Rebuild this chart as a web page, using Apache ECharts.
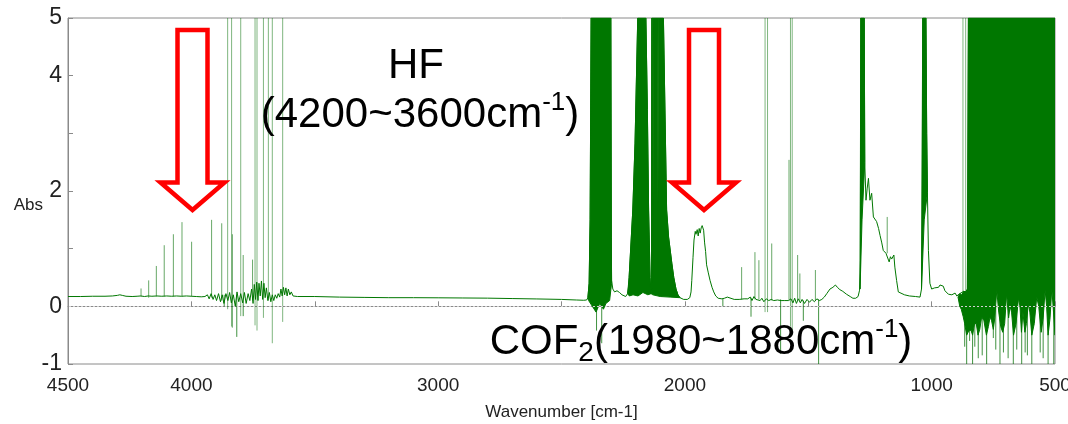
<!DOCTYPE html>
<html><head><meta charset="utf-8">
<script src="https://cdn.jsdelivr.net/npm/echarts@6/dist/echarts.min.js"></script>
<style>html,body{margin:0;padding:0;background:#fff}#c{width:1068px;height:424px}</style>
</head><body><div id="c"></div>
<script>
// ---- tick labels ----
const xTickLabels = [4500, 4000, 3000, 2000, 1000, 500];
const yTickLabels = [-1, 0, 2, 4, 5];

// ---- continuous absorbance trace [wavenumber, Abs] ----
const trace = [
[4500,0.17],[4450,0.17],[4400,0.175],[4350,0.175],[4320,0.18],[4300,0.19],[4290,0.2],[4280,0.19],[4265,0.175],[4240,0.17],
[4220,0.175],[4205,0.18],[4190,0.17],[4175,0.18],[4160,0.175],[4140,0.18],[4120,0.175],[4100,0.18],[4080,0.175],[4060,0.18],
[4040,0.175],[4020,0.18],[4000,0.175],[3980,0.17],[3960,0.165],[3945,0.17],
[3935,0.2],[3928,0.13],[3920,0.22],[3912,0.12],[3905,0.2],[3898,0.1],[3890,0.22],[3882,0.08],[3875,0.2],[3868,0.05],
[3860,0.22],[3852,0.1],[3845,0.24],[3838,0.06],[3830,0.2],[3822,0.0],[3815,0.25],[3808,0.08],[3800,0.22],[3792,0.06],
[3785,0.24],[3778,0.05],[3770,0.22],[3763,0.1],[3756,0.3],[3750,0.05],[3745,0.38],[3740,0.12],[3735,0.42],[3730,0.1],
[3726,0.4],[3721,0.18],[3716,0.44],[3711,0.12],[3706,0.4],[3701,0.15],[3696,0.32],[3690,0.1],[3684,0.24],[3678,0.08],
[3672,0.2],[3666,0.1],[3660,0.2],[3654,0.14],[3648,0.22],[3642,0.16],[3637,0.3],[3632,0.18],[3627,0.33],[3622,0.2],
[3617,0.32],[3612,0.18],[3607,0.3],[3601,0.2],[3595,0.25],[3588,0.18],[3580,0.19],[3570,0.17],
[3500,0.17],[3400,0.16],[3300,0.155],[3200,0.15],[3100,0.15],[3000,0.148],[2900,0.145],[2800,0.142],[2700,0.135],
[2600,0.128],[2500,0.12],[2440,0.11],[2410,0.105],[2398,0.11],[2393,0.15],[2388,0.4],[2384,1.5],[2380,5],
[2300,5],[2298,1.2],[2297,0.45],[2292,0.3],[2285,0.25],[2275,0.27],[2265,0.24],[2255,0.2],[2248,0.17],[2240,0.17],
[2232,0.22],[2228,0.35],[2226,0.5],[2211,1.67],[2202,2.83],[2191,5],[2158,5],[2152,3.41],[2147,1.67],[2141,0.5],
[2138,0.22],[2135,0.3],[2134,5],[2087,5],[2074,1.67],[2066,1.2],[2053,0.75],[2045,0.5],[2036,0.3],[2028,0.2],
[2020,0.15],[2005,0.12],[1990,0.12],[1980,0.15],[1975,0.25],[1972,0.45],[1967,0.85],[1963,1.15],[1958,1.3],[1955,1.25],
[1950,1.33],[1946,1.22],[1942,1.35],[1938,1.27],[1934,1.36],[1930,1.4],[1927,1.42],[1924,1.32],[1920,1.1],[1916,0.95],
[1912,0.72],[1905,0.58],[1898,0.45],[1890,0.33],[1883,0.25],[1875,0.18],[1865,0.14],[1850,0.13],[1840,0.14],[1834,0.17],
[1828,0.16],[1820,0.13],[1800,0.12],[1780,0.12],[1760,0.13],[1745,0.13],[1735,0.16],[1728,0.1],[1720,0.17],[1712,0.12],
[1705,0.15],[1695,0.1],[1688,0.14],[1680,0.08],[1670,0.13],[1660,0.1],[1650,0.12],[1640,0.1],[1625,0.11],[1610,0.1],
[1595,0.1],[1580,0.1],[1570,0.13],[1562,0.06],[1555,0.14],[1548,0.05],[1540,0.13],[1532,0.06],[1525,0.12],[1515,0.05],
[1505,0.12],[1495,0.07],[1485,0.12],[1475,0.08],[1465,0.13],[1455,0.1],[1445,0.12],[1435,0.16],[1425,0.22],[1412,0.3],
[1400,0.33],[1390,0.37],[1382,0.33],[1372,0.29],[1360,0.26],[1345,0.21],[1330,0.17],[1319,0.14],[1308,0.14],[1298,0.17],
[1292,0.28],[1289,0.8],[1287,5],[1273,5],[1271,2.49],[1266,1.84],[1261,2.05],[1256,2.22],[1250,1.84],[1243,1.96],
[1236,1.55],[1229,1.58],[1223,1.47],[1215,1.35],[1209,1.23],[1202,1.1],[1196,0.97],[1185,0.92],[1172,0.77],[1167,0.86],
[1162,0.82],[1153,0.89],[1149,0.68],[1142,0.45],[1135,0.25],[1128,0.22],[1110,0.2],[1090,0.18],[1065,0.17],[1047,0.16],
[1041,0.3],[1038,1.5],[1036,5],[1023,5],[1020,3.0],[1017,1.97],[1013,0.97],[1007,0.4],[1000,0.3],[996,0.28],
[988,0.32],[980,0.35],[972,0.33],[966,0.37],[960,0.34],[953,0.35],[946,0.27],[939,0.25],[932,0.21],[926,0.19],
[918,0.2],[910,0.22],[905,0.23],[898,0.18],[892,0.16],[886,0.22],[878,0.2],[870,0.26],[861,0.25],[855,0.3],[851,5],[500,5]
];

// ---- saturated (blacked-out) regions, outlines [wavenumber, Abs] ----
const bandCO2a = [[2393,0.15],[2388,0.4],[2384,1.5],[2380,5],[2300,5],[2298,1.2],[2297,0.4],[2305,0.1],[2320,0.05],
  [2330,-0.05],[2345,0.05],[2360,-0.1],[2375,0.0],[2390,0.1]];
const bandCO2b = [[2232,0.22],[2226,0.5],[2211,1.67],[2202,2.83],[2191,5],[2158,5],[2152,3.41],[2147,1.67],[2141,0.5],
  [2137,0.22],[2150,0.2],[2170,0.24],[2190,0.18],[2210,0.2],[2225,0.18]];
const bandCO2c = [[2137,0.22],[2135,0.3],[2134,5],[2130,5],[2129,1.8],[2127,5],[2111,5],[2109,1.8],[2107,5],[2087,5],
  [2074,1.67],[2066,1.2],[2053,0.75],[2045,0.5],[2036,0.3],[2028,0.2],[2020,0.15],[2060,0.16],[2100,0.17],[2130,0.2]];
const band1280 = [[1290,0.3],[1287,5],[1273,5],[1271,2.49],[1282,1.5]];
const band1030 = [[1041,0.3],[1036,5],[1023,5],[1020,3.0],[1017,1.97],[1030,1.5]];
const bandLow = [[893,0.16],[886,0.22],[878,0.2],[870,0.26],[861,0.25],[855,0.3],[851,5],[500,5],
  [500,-0.5],[506,-0.1],[513,0.31],[520,-0.2],[528,-0.5],[534,0.0],[540,0.28],[548,-0.2],[556,-0.45],[566,0.0],
  [574,0.16],[584,-0.3],[594,-0.5],[602,-0.1],[608,0.05],[616,-0.3],[622,-0.45],[630,-0.1],[636,-0.45],[642,0.0],
  [648,0.14],[658,-0.3],[668,-0.5],[676,-0.1],[682,0.0],[688,-0.2],[696,0.22],[704,-0.3],[712,-0.45],[720,-0.35],
  [728,-0.1],[736,0.28],[744,-0.2],[750,-0.4],[757,-0.25],[763,-0.18],[770,-0.35],[778,-0.5],[788,-0.25],[797,-0.18],
  [805,-0.4],[812,-0.5],[819,-0.3],[826,-0.3],[834,-0.5],[840,-0.42],[846,-0.41],[852,-0.45],[858,-0.5],[866,-0.3],
  [872,-0.18],[880,-0.05],[886,0.0],[893,0.16]];
const bands = [bandCO2a, bandCO2b, bandCO2c, band1280, band1030, bandLow];

// ---- thin lines [wavenumber, from Abs, to Abs] ----
const hfLines = [[4204,0.17,0.31],[4173,0.15,0.45],[4142,0.17,0.70],[4110,0.17,1.06],[4073,0.17,1.25],[4038,0.17,1.46],
  [3999,0.17,1.12],[3918,0.15,1.50],[3877,0.1,1.44],[3834,-0.37,1.25],[3790,0.1,0.89],[3752,0.1,0.81],
  [1770,0.12,0.68],[1716,0.12,0.94],[1700,0.12,0.8],[1648,0.1,1.09],[1578,0.1,2.54],[1543,0.1,0.89],[1534,0.1,0.57],
  [1471,0.1,0.63],[1180,0.92,1.55]];
const saturatedLines = [[3853,-0.05,5],[3837,-0.35,5],[3800,-0.17,5],[3742,-0.33,5],[3734,-0.42,5],[3708,-0.2,5],
  [3688,0.1,5],[3672,-0.64,5],[3630,-0.27,5],[1675,-0.1,5],[1665,-0.1,5],[1572,-0.35,5],[1565,-0.5,5],[873,0.2,5],[862,0.2,5]];
const downSpikes = [[3867,0.0,0.2],[3816,-0.53,0.2],[3790,-0.17,0.1],[2358,-0.42,0.1],[2337,-0.64,0.1],[1846,0.0,0.13],
  [1732,-0.18,0.15],[1612,-0.82,0.12],[1520,-0.25,0.1],[1458,-1,0.12],
  [505,-1,0],[528,-1,0],[548,-0.9,0],[560,-0.8,0],[594,-1,0],[612,-0.85,0],[621,-0.8,0],[635,-1,0],[655,-0.75,0],
  [669,-1,0],[690,-0.9,0],[709,-0.8,0],[723,-1,0],[740,-0.75,0],[750,-0.55,0],[777,-1,0],[795,-0.85,0],[811,-0.9,0],
  [825,-0.7,0],[834,-1,0],[846,-0.6,0],[858,-1,0],[866,-0.7,0]];

const GREEN = '#007700';
const LBL = "'Liberation Sans',Arial,sans-serif";
const SANS = "'Liberation Sans',Arial,sans-serif";

function lineSeries(data, color) {
  return {
    type: 'custom', data: data, encode: { x: 0, y: [1, 2] }, clip: true, silent: true,
    renderItem: function (params, api) {
      const a = api.coord([api.value(0), api.value(1)]);
      const b = api.coord([api.value(0), api.value(2)]);
      return { type: 'line', shape: { x1: a[0], y1: a[1], x2: b[0], y2: b[1] }, style: { stroke: color, lineWidth: 1 } };
    }
  };
}

const chart = echarts.init(document.getElementById('c'), null, { renderer: 'canvas' });
chart.setOption({
  animation: false,
  backgroundColor: '#fff',
  grid: { left: 68, right: 13, top: 18, bottom: 60, containLabel: false, outerBoundsMode: 'none',
    show: true, borderColor: '#8a8a8a', borderWidth: 1, backgroundColor: 'transparent' },
  xAxis: {
    type: 'value', min: 500, max: 4500, interval: 500, inverse: true,
    name: 'Wavenumber [cm-1]', nameLocation: 'middle', nameGap: 40, nameMoveOverlap: false,
    nameTextStyle: { fontFamily: LBL, fontSize: 17, color: '#222' },
    axisLine: { lineStyle: { color: '#8a8a8a', width: 1 } },
    axisTick: { inside: true, length: 5, lineStyle: { color: '#8a8a8a' } },
    splitLine: { show: false },
    axisLabel: { margin: 12, fontFamily: LBL, fontSize: 19, color: '#222', hideOverlap: false,
      formatter: v => xTickLabels.includes(v) ? String(v) : '' }
  },
  yAxis: {
    type: 'value', min: -1, max: 5, interval: 1,
    name: 'Abs', nameLocation: 'middle', nameRotate: 0, nameGap: 25, nameMoveOverlap: false,
    nameTextStyle: { fontFamily: LBL, fontSize: 17, color: '#222', verticalAlign: 'top', padding: [6, 0, 0, 0] },
    axisLine: { show: true, lineStyle: { color: '#8a8a8a', width: 1 } },
    axisTick: { show: true, inside: true, length: 5, lineStyle: { color: '#8a8a8a' } },
    splitLine: { show: false },
    axisLabel: { margin: 6, fontFamily: LBL, fontSize: 23, color: '#222', hideOverlap: false,
      formatter: v => yTickLabels.includes(v) ? String(v) : '' }
  },
  series: [
    {
      type: 'line', data: trace, showSymbol: false, symbol: 'none', sampling: null, clip: true, silent: true,
      lineStyle: { color: GREEN, width: 1 }, z: 3,
      markLine: { silent: true, symbol: 'none', label: { show: false },
        lineStyle: { type: [2, 2], color: '#d0d0d0', width: 1, opacity: 1 }, data: [{ yAxis: 0 }] }
    },
    {
      type: 'custom', clip: true, silent: true, z: 3,
      data: bands.map((b, i) => [b[0][0], b[0][1], i]), encode: { x: 0, y: 1 },
      renderItem: function (params, api) {
        const pts = bands[api.value(2)].map(p => api.coord(p));
        return { type: 'polygon', shape: { points: pts }, style: { fill: GREEN, stroke: GREEN, lineWidth: 1 } };
      }
    },
    Object.assign(lineSeries(hfLines, 'rgba(0,110,0,0.6)'), { z: 2 }),
    Object.assign(lineSeries(saturatedLines, 'rgba(0,110,0,0.5)'), { z: 2 }),
    Object.assign(lineSeries(downSpikes, 'rgba(0,110,0,0.75)'), { z: 2 })
  ]
});

// ---- annotations (arrows + labels) ----
function arrow(cx) {
  const top = 30, head = 182.5, tip = 210, hw = 15, hh = 32;
  return { type: 'polygon', z: 10, silent: true,
    shape: { points: [[cx - hw, top], [cx + hw, top], [cx + hw, head], [cx + hh, head], [cx, tip], [cx - hh, head], [cx - hw, head]] },
    style: { fill: 'none', stroke: '#ff0000', lineWidth: 4.5, lineJoin: 'miter' } };
}
const richStyle = {
  m: { fontFamily: SANS, fontSize: 42, lineHeight: 50, color: '#000' },
  sup: { fontFamily: SANS, fontSize: 26, lineHeight: 38, verticalAlign: 'top', color: '#000' },
  sub: { fontFamily: SANS, fontSize: 28, lineHeight: 20, verticalAlign: 'bottom', color: '#000' }
};
chart.setOption({
  graphic: [
    arrow(192.5), arrow(704),
    { type: 'text', z: 10, silent: true, style: { text: 'HF', x: 416, y: 66, align: 'center', verticalAlign: 'middle',
      font: '42px ' + SANS, fill: '#000' } },
    { type: 'text', z: 10, silent: true, style: { text: '{m|(4200~3600cm}{sup|-1}{m|)}', x: 420, y: 115,
      align: 'center', verticalAlign: 'middle', rich: richStyle } },
    { type: 'text', z: 10, silent: true, style: { text: '{m|COF}{sub|2}{m|(1980~1880cm}{sup|-1}{m|)}', x: 701, y: 342,
      align: 'center', verticalAlign: 'middle', rich: richStyle } }
  ]
});
</script>
</body></html>
